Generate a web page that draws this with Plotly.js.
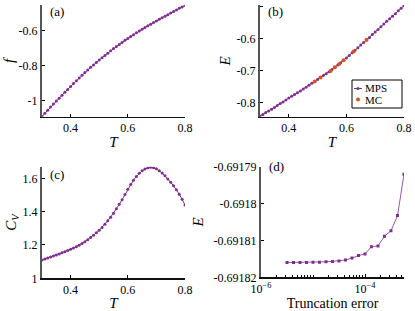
<!DOCTYPE html>
<html>
<head>
<meta charset="utf-8">
<script src="https://cdn.plot.ly/plotly-3.0.1.min.js"></script>
<style>html,body{margin:0;padding:0;background:#fff}#chart{width:415px;height:311px}</style>
</head>
<body>
<div id="chart"></div>
<script>
// ---- data ----
const T = [0.30,0.31,0.32,0.33,0.34,0.35,0.36,0.37,0.38,0.39,0.40,0.41,0.42,0.43,0.44,0.45,0.46,0.47,0.48,0.49,
           0.50,0.51,0.52,0.53,0.54,0.55,0.56,0.57,0.58,0.59,0.60,0.61,0.62,0.63,0.64,0.65,0.66,0.67,0.68,0.69,
           0.70,0.71,0.72,0.73,0.74,0.75,0.76,0.77,0.78,0.79,0.80];
const freeEnergy = [-1.091,-1.073,-1.056,-1.038,-1.021,-1.004,-0.987,-0.970,-0.953,-0.937,-0.920,-0.904,-0.888,-0.872,-0.856,-0.841,-0.826,-0.811,-0.797,-0.783,
           -0.769,-0.756,-0.743,-0.730,-0.717,-0.704,-0.692,-0.680,-0.669,-0.657,-0.646,-0.635,-0.625,-0.614,-0.604,-0.594,-0.584,-0.574,-0.565,-0.555,
           -0.546,-0.537,-0.528,-0.519,-0.510,-0.501,-0.492,-0.483,-0.474,-0.466,-0.457];
const energyMPS = [-0.841,-0.836,-0.830,-0.825,-0.8195,-0.814,-0.808,-0.802,-0.797,-0.791,-0.785,-0.779,-0.774,-0.768,-0.763,-0.757,-0.751,-0.745,-0.739,-0.733,
           -0.727,-0.721,-0.715,-0.709,-0.703,-0.696,-0.689,-0.682,-0.675,-0.668,-0.660,-0.652,-0.644,-0.636,-0.628,-0.620,-0.612,-0.604,-0.596,-0.587,
           -0.579,-0.571,-0.563,-0.554,-0.546,-0.538,-0.530,-0.522,-0.513,-0.505,-0.497];
const T_MC = [0.49,0.51,0.545,0.56,0.575,0.59,0.625,0.67];
const energyMC = [-0.733,-0.721,-0.7005,-0.689,-0.6785,-0.667,-0.640,-0.6035];
const heatCapacity = [1.110,1.116,1.122,1.128,1.134,1.140,1.146,1.153,1.160,1.167,1.174,1.182,1.190,1.199,1.209,1.220,1.232,1.245,1.259,1.273,
           1.288,1.305,1.324,1.345,1.367,1.391,1.417,1.444,1.472,1.503,1.535,1.563,1.589,1.611,1.630,1.645,1.656,1.663,1.666,1.664,
           1.657,1.646,1.632,1.615,1.596,1.577,1.555,1.531,1.505,1.474,1.440];
const truncErr = [3.16e-6,4.22e-6,5.62e-6,7.50e-6,1.00e-5,1.33e-5,1.78e-5,2.37e-5,3.16e-5,4.22e-5,5.62e-5,7.50e-5,
           1.00e-4,1.33e-4,1.78e-4,2.37e-4,3.16e-4,4.22e-4,5.62e-4];
const energyTrunc = [-0.6918160,-0.6918160,-0.6918160,-0.6918160,-0.6918159,-0.6918159,-0.6918158,-0.6918157,-0.6918156,-0.6918153,
           -0.6918148,-0.6918141,-0.6918137,-0.6918117,-0.6918115,-0.6918089,-0.6918074,-0.6918033,-0.6917921];
const seriesNames = ['MPS', 'MC'];
const tickT = [0.4,0.6,0.8], tickTText = ['0.4','0.6','0.8'];
const tickF = [-1,-0.8,-0.6], tickFText = ['-1','-0.8','-0.6'];
const tickE = [-0.8,-0.7,-0.6,-0.5], tickEText = ['-0.8','-0.7','-0.6','-0.5'];
const tickC = [1,1.2,1.4,1.6], tickCText = ['1','1.2','1.4','1.6'];
const tickD = [-0.69182,-0.69181,-0.6918,-0.69179], tickDText = ['-0.69182','-0.69181','-0.6918','-0.69179'];
const tickTrunc = [1e-6,1e-4], tickTruncText = ['10<sup>\u22126</sup>','10<sup>\u22124</sup>'];
const minorTrunc = [2e-6,3e-6,4e-6,5e-6,6e-6,7e-6,8e-6,9e-6,1e-5,2e-5,3e-5,4e-5,5e-5,6e-5,7e-5,8e-5,9e-5,2e-4,3e-4,4e-4,5e-4];

// ---- styling ----
const PURPLE = '#7E2F8E', ORANGE = '#D95319';
const FONT = 'Liberation Serif';
const tf = (s) => ({family: FONT, size: s, color: '#000'});
function xAx(domain, extra) {
  return Object.assign({domain: domain, range: [0.3, 0.8], tickmode: 'array', tickvals: tickT, ticktext: tickTText,
    ticks: 'inside', ticklen: 3, tickcolor: '#000', showline: true, linecolor: '#111', linewidth: 1.3,
    showgrid: false, zeroline: false, tickfont: tf(12),
    title: {text: '<i>T</i>', font: tf(15), standoff: 2}}, extra || {});
}
function yAx(domain, extra) {
  return Object.assign({domain: domain, ticks: 'inside', ticklen: 3, tickcolor: '#000', showline: true,
    linecolor: '#555', linewidth: 2, showgrid: false, zeroline: false, tickmode: 'array',
    tickfont: tf(12)}, extra || {});
}
const W = 415, H = 311;
const dx = (a, b) => [a / W, b / W];
const dy = (top, bot) => [1 - bot / H, 1 - top / H];
const px = (v) => v / W, py = (v) => 1 - v / H;

const traces = [
  {x: T, y: freeEnergy, xaxis: 'x', yaxis: 'y', mode: 'lines+markers',
   line: {color: PURPLE, width: 1}, marker: {color: PURPLE, size: 3}},
  {x: T, y: energyMPS, xaxis: 'x2', yaxis: 'y2', mode: 'lines+markers', name: seriesNames[0],
   line: {color: PURPLE, width: 1}, marker: {color: PURPLE, size: 3}},
  {x: T_MC, y: energyMC, xaxis: 'x2', yaxis: 'y2', mode: 'markers', name: seriesNames[1],
   marker: {color: ORANGE, size: 4}},
  {x: T, y: heatCapacity, xaxis: 'x3', yaxis: 'y3', mode: 'lines+markers',
   line: {color: PURPLE, width: 1}, marker: {color: PURPLE, size: 3}},
  {x: truncErr, y: energyTrunc, xaxis: 'x4', yaxis: 'y4', mode: 'lines+markers',
   line: {color: PURPLE, width: 0.8}, marker: {color: PURPLE, size: 3, symbol: 'square'}}
];

const panelLabel = (t, xr, yr, y) => ({text: t, xref: xr, yref: yr, x: 0.04, y: y, xanchor: 'left', yanchor: 'middle',
  showarrow: false, font: tf(13)});

// legend box (panel b), drawn in paper space
const legendShapes = [
  {type: 'rect', xref: 'paper', yref: 'paper', x0: px(352), x1: px(402), y0: py(108), y1: py(80),
   line: {color: '#000', width: 1}, fillcolor: '#fff', layer: 'above'},
  {type: 'line', xref: 'paper', yref: 'paper', x0: px(354), x1: px(362), y0: py(88.5), y1: py(88.5),
   line: {color: PURPLE, width: 1}, layer: 'above'},
  {type: 'circle', xref: 'paper', yref: 'paper', x0: px(356.5), x1: px(359.5), y0: py(90), y1: py(87),
   line: {color: PURPLE, width: 0}, fillcolor: PURPLE, layer: 'above'},
  {type: 'circle', xref: 'paper', yref: 'paper', x0: px(356), x1: px(360), y0: py(101.5), y1: py(97.5),
   line: {color: ORANGE, width: 0}, fillcolor: ORANGE, layer: 'above'}
];
const legendTexts = [
  {text: seriesNames[0], xref: 'paper', yref: 'paper', x: px(363), y: py(88.5), xanchor: 'left', yanchor: 'middle',
   showarrow: false, font: tf(11)},
  {text: seriesNames[1], xref: 'paper', yref: 'paper', x: px(363), y: py(99.5), xanchor: 'left', yanchor: 'middle',
   showarrow: false, font: tf(11)}
];

const layout = {
  width: W, height: H, margin: {l: 0, r: 0, t: 0, b: 0},
  paper_bgcolor: '#fff', plot_bgcolor: '#fff', showlegend: false,
  font: tf(12),
  xaxis: xAx(dx(42, 185), {anchor: 'y'}),
  yaxis: yAx(dy(5, 116.7), {anchor: 'x', range: [-1.093, -0.455], tickvals: tickF, ticktext: tickFText,
    title: {text: '<i>f</i>', font: tf(15), standoff: 0}}),
  xaxis2: xAx(dx(260, 404), {anchor: 'y2'}),
  yaxis2: yAx(dy(5, 116.7), {anchor: 'x2', range: [-0.843, -0.495], tickvals: tickE, ticktext: tickEText,
    title: {text: '<i>E</i>', font: tf(15), standoff: 2}}),
  xaxis3: xAx(dx(42, 185), {anchor: 'y3'}),
  yaxis3: yAx(dy(166.7, 278.3), {anchor: 'x3', range: [1, 1.67], tickvals: tickC, ticktext: tickCText,
    title: {text: '<i>C</i><sub><i>V</i></sub>', font: tf(15), standoff: 2}}),
  xaxis4: {domain: dx(261, 404), anchor: 'y4', type: 'log', range: [-6, -3.25], tickmode: 'array',
    tickvals: tickTrunc, ticktext: tickTruncText, ticks: 'inside', ticklen: 3, tickcolor: '#000',
    minor: {tickmode: 'array', tickvals: minorTrunc, ticks: 'inside', ticklen: 2, tickcolor: '#000'},
    showline: true, linecolor: '#111', linewidth: 1.3, showgrid: false, zeroline: false,
    tickfont: tf(12),
    title: {text: 'Truncation error', font: tf(14), standoff: 2}},
  yaxis4: yAx(dy(166.5, 277.3), {anchor: 'x4', range: [-0.69182, -0.69179], tickvals: tickD, ticktext: tickDText,
    title: {text: '<i>E</i>', font: tf(15), standoff: 6}}),
  shapes: legendShapes,
  annotations: [
    panelLabel('(a)', 'x domain', 'y domain', 0.94),
    panelLabel('(b)', 'x2 domain', 'y2 domain', 0.94),
    panelLabel('(c)', 'x3 domain', 'y3 domain', 0.93),
    panelLabel('(d)', 'x4 domain', 'y4 domain', 1.0)
  ].concat(legendTexts)
};
Plotly.newPlot('chart', traces, layout, {displayModeBar: false, staticPlot: true});
</script>
</body>
</html>
